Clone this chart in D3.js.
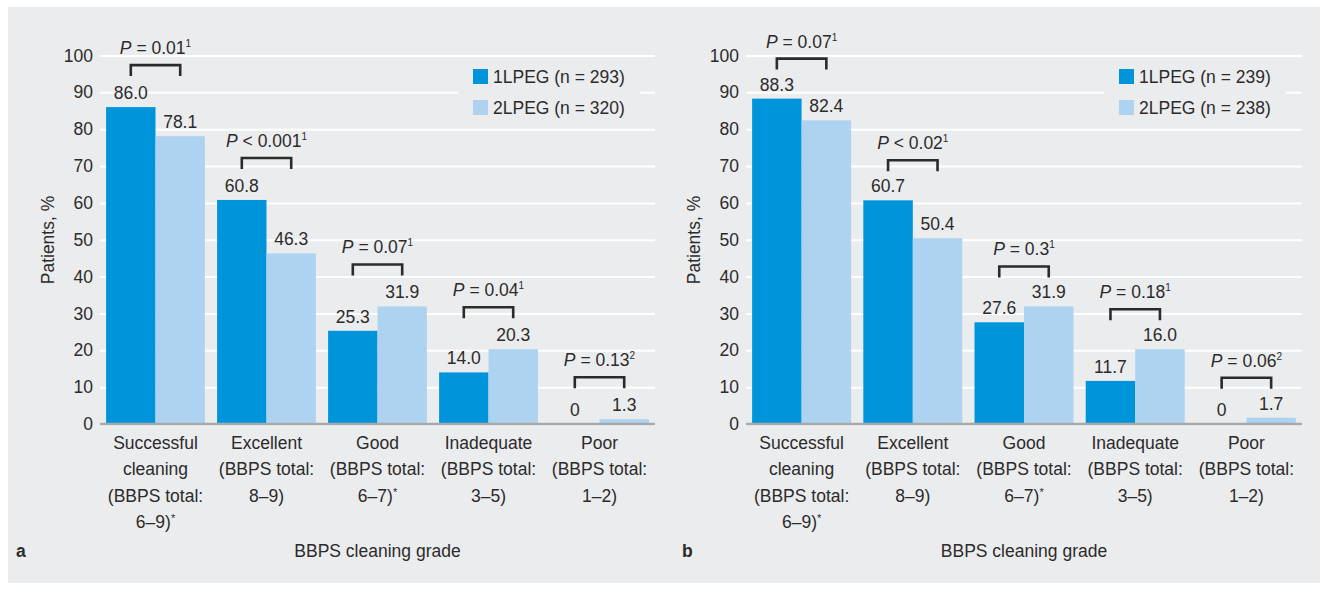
<!DOCTYPE html>
<html lang="en">
<head>
    <meta charset="utf-8">
    <title>BBPS cleaning grade</title>
    <script src="https://d3js.org/d3.v7.min.js"></script>
</head>
<style>
body { margin: 0; background: #fff; }
text { font-family: "Liberation Sans", Arial, sans-serif; fill: #2b2b2b; }
</style>
<body>
<svg id="chart" width="1327" height="590"></svg>
<script>
// categories (x axis), one label line per entry
var categoryLines = [
  ["Successful", "cleaning", "(BBPS total:", "6–9)*"],
  ["Excellent", "(BBPS total:", "8–9)"],
  ["Good", "(BBPS total:", "6–7)*"],
  ["Inadequate", "(BBPS total:", "3–5)"],
  ["Poor", "(BBPS total:", "1–2)"]
];
var yTicks = [0, 10, 20, 30, 40, 50, 60, 70, 80, 90, 100];

// panel a
var heightsA1 = [86.0, 60.8, 25.3, 14.0, 0];
var heightsA2 = [78.1, 46.3, 31.9, 20.3, 1.3];
var labelsA1 = ["86.0", "60.8", "25.3", "14.0", "0"];
var labelsA2 = ["78.1", "46.3", "31.9", "20.3", "1.3"];
var pTextA = ["= 0.01", "< 0.001", "= 0.07", "= 0.04", "= 0.13"];
var pSupA = ["1", "1", "1", "1", "2"];
var legendA = ["1LPEG (n = 293)", "2LPEG (n = 320)"];

// panel b (the 16.0 bar is drawn at ~20 in the source figure)
var heightsB1 = [88.3, 60.7, 27.6, 11.7, 0];
var heightsB2 = [82.4, 50.4, 31.9, 20.3, 1.7];
var labelsB1 = ["88.3", "60.7", "27.6", "11.7", "0"];
var labelsB2 = ["82.4", "50.4", "31.9", "16.0", "1.7"];
var pTextB = ["= 0.07", "< 0.02", "= 0.3", "= 0.18", "= 0.06"];
var pSupB = ["1", "1", "1", "1", "2"];
var legendB = ["1LPEG (n = 239)", "2LPEG (n = 238)"];

var colors = ["#0095da", "#add3f0"];
var bg = "#ebeced";
var fs = 17.5;

var svg = d3.select("#chart");

svg.append("rect")
  .attr("x", 8).attr("y", 7)
  .attr("width", 1312).attr("height", 576)
  .attr("fill", bg);

function drawPanel(p) {
  var g = svg.append("g");

  var x = d3.scaleBand()
    .domain(d3.range(categoryLines.length))
    .range([p.left, p.right])
    .paddingInner(0.11)
    .paddingOuter(0.055);
  var xs = d3.scaleBand().domain([0, 1]).range([0, x.bandwidth()]);
  var y = d3.scaleLinear().domain([0, 100]).range([424, 55.5]);

  // gridlines + tick labels
  var axis = g.append("g")
    .attr("transform", "translate(" + p.left + ",0)")
    .call(d3.axisLeft(y).tickValues(yTicks).tickSize(-(p.right - p.left)).tickPadding(7));
  axis.attr("font-size", fs).attr("font-family", null);
  axis.select(".domain").remove();
  axis.selectAll("line").attr("stroke", "#fff").attr("stroke-width", 2);

  // legend
  g.append("rect")
    .attr("x", p.left + 358).attr("y", 60)
    .attr("width", 182).attr("height", 64)
    .attr("fill", bg);
  p.legend.forEach(function(t, k) {
    g.append("rect")
      .attr("x", p.left + 373).attr("y", 69 + k * 31)
      .attr("width", 15).attr("height", 15)
      .attr("fill", colors[k]);
    g.append("text")
      .attr("x", p.left + 393).attr("y", 83 + k * 31)
      .attr("font-size", fs)
      .text(t);
  });

  // bars
  var series = [p.h1, p.h2];
  var labels = [p.l1, p.l2];
  series.forEach(function(vals, s) {
    g.selectAll(".bar" + s)
      .data(vals)
      .enter()
      .append("rect")
        .attr("x", function(d, i) { return x(i) + xs(s); })
        .attr("y", function(d) { return y(d); })
        .attr("width", xs.bandwidth())
        .attr("height", function(d) { return y(0) - y(d); })
        .attr("fill", colors[s]);

    g.selectAll(".lab" + s)
      .data(vals)
      .enter()
      .append("text")
        .attr("x", function(d, i) { return x(i) + xs(s) + xs.bandwidth() / 2; })
        .attr("y", function(d) { return y(d) - 8; })
        .attr("text-anchor", "middle")
        .attr("font-size", fs)
        .text(function(d, i) { return labels[s][i]; });
  });

  // zero line
  g.append("line")
    .attr("x1", p.left).attr("x2", p.right)
    .attr("y1", y(0)).attr("y2", y(0))
    .attr("stroke", "#a7a9ab")
    .attr("stroke-width", 2.6);

  // significance brackets
  categoryLines.forEach(function(c, i) {
    var cx1 = x(i) + xs(0) + xs.bandwidth() / 2;
    var cx2 = x(i) + xs(1) + xs.bandwidth() / 2;
    var bottom = y(Math.max(p.h1[i], p.h2[i])) - p.gap;
    var top = bottom - 11;
    g.append("path")
      .attr("d", "M" + cx1 + "," + bottom + "V" + top + "H" + cx2 + "V" + bottom)
      .attr("fill", "none")
      .attr("stroke", "#2b2b2b")
      .attr("stroke-width", 2.6);
    var t = g.append("text")
      .attr("x", (cx1 + cx2) / 2)
      .attr("y", top - 11)
      .attr("text-anchor", "middle")
      .attr("font-size", fs);
    t.append("tspan").attr("font-style", "italic").text("P");
    t.append("tspan").text(" " + p.pText[i]);
    t.append("tspan").attr("font-size", 10).attr("dy", -7).text(p.pSup[i]);
  });

  // category labels
  categoryLines.forEach(function(lines, i) {
    var t = g.append("text")
      .attr("text-anchor", "middle")
      .attr("font-size", fs);
    lines.forEach(function(line, k) {
      var star = line.slice(-1) == "*";
      t.append("tspan")
        .attr("x", x(i) + x.bandwidth() / 2)
        .attr("y", 449 + k * 26.3)
        .text(star ? line.slice(0, -1) : line);
      if (star) {
        t.append("tspan").attr("font-size", 11).attr("dy", -6).text("*");
      }
    });
  });

  // axis titles
  g.append("text")
    .attr("transform", "translate(" + (p.left - 46) + ",240) rotate(-90)")
    .attr("text-anchor", "middle")
    .attr("font-size", fs)
    .text("Patients, %");
  g.append("text")
    .attr("x", (p.left + p.right) / 2)
    .attr("y", 557)
    .attr("text-anchor", "middle")
    .attr("font-size", fs)
    .text("BBPS cleaning grade");
  g.append("text")
    .attr("x", p.letterX)
    .attr("y", 557)
    .attr("font-size", fs)
    .attr("font-weight", "bold")
    .text(p.letter);
}

drawPanel({left: 100, right: 655, gap: 31, letter: "a", letterX: 16,
  h1: heightsA1, h2: heightsA2, l1: labelsA1, l2: labelsA2,
  pText: pTextA, pSup: pSupA, legend: legendA});
drawPanel({left: 746, right: 1302, gap: 29, letter: "b", letterX: 682,
  h1: heightsB1, h2: heightsB2, l1: labelsB1, l2: labelsB2,
  pText: pTextB, pSup: pSupB, legend: legendB});
</script>
</body>
</html>
